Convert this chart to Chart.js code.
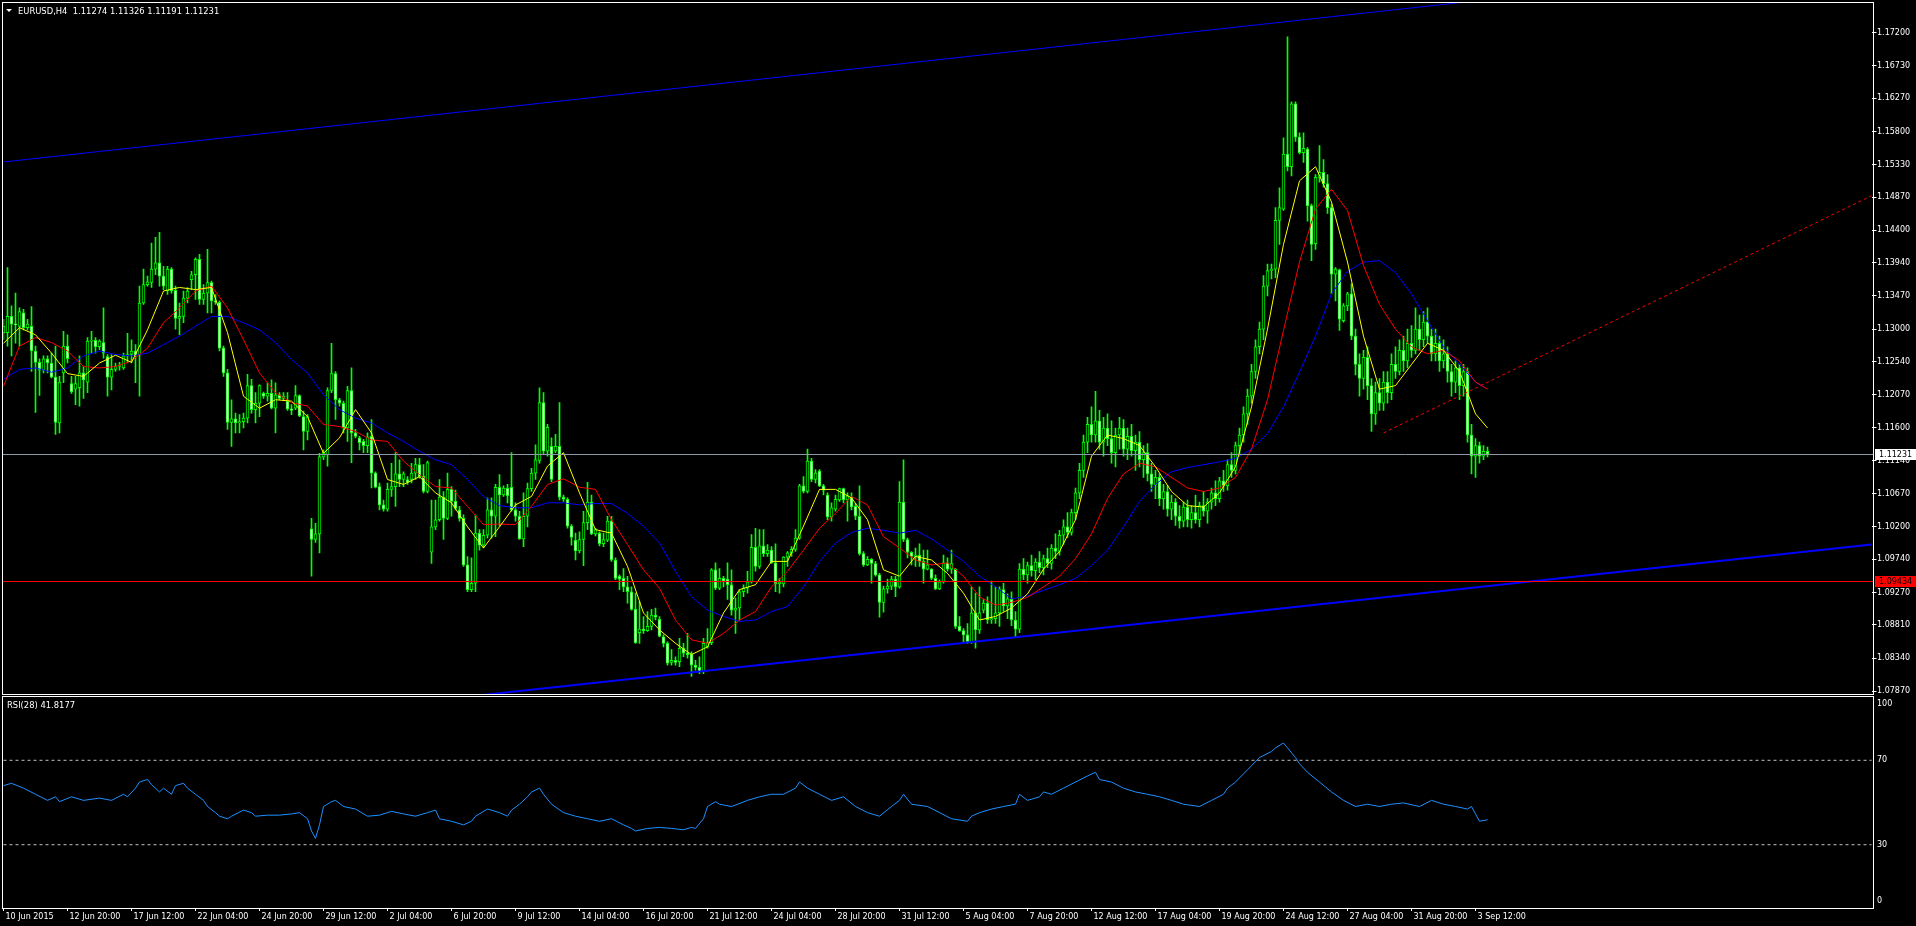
<!DOCTYPE html>
<html>
<head>
<meta charset="utf-8">
<title>EURUSD,H4</title>
<script src="https://cdn.jsdelivr.net/npm/chart.js@4.4.1/dist/chart.umd.min.js"></script>
<style>
  html, body { margin: 0; padding: 0; background: #000; overflow: hidden; }
  #wrap { position: relative; width: 1916px; height: 926px; background: #000; }
  canvas { position: absolute; left: 0; }
  #priceChart { top: 0; }
  #rsiChart { top: 695px; }
  .txt { position: absolute; color: #fff; font: 8.4px "DejaVu Sans", sans-serif; line-height: 10px; white-space: pre; }
  #tri { position: absolute; left: 6px; top: 9px; width: 0; height: 0;
         border-left: 3px solid transparent; border-right: 3px solid transparent; border-top: 3px solid #fff; }
</style>
</head>
<body>
<div id="wrap">
  <canvas id="priceChart" width="1916" height="695"></canvas>
  <canvas id="rsiChart" width="1916" height="231"></canvas>
  <div id="tri"></div>
  <div class="txt" id="title" style="left:18px; top:6px;"></div>
  <div class="txt" id="rsiTitle" style="left:7px; top:700px;"></div>
</div>
<script>
/* ================================
   Chart values
   ================================ */
const symbol = "EURUSD,H4";
const lastQuote = [1.11274, 1.11326, 1.11191, 1.11231];   // O H L C of the live bar
const bidPrice = 1.11231;
const levelPrice = 1.09434;
const rsiPeriod = 28;
const rsiNow = 41.8177;

const slotCount = 468;      // bar slots across the panel (bars + empty right margin)
const timeStep = 16;        // bars between time labels
const maStep = 4;           // MA values read every 4 bars

const timeTicks = ["10 Jun 2015","12 Jun 20:00","17 Jun 12:00","22 Jun 04:00","24 Jun 20:00","29 Jun 12:00",
  "2 Jul 04:00","6 Jul 20:00","9 Jul 12:00","14 Jul 04:00","16 Jul 20:00","21 Jul 12:00","24 Jul 04:00",
  "28 Jul 20:00","31 Jul 12:00","5 Aug 04:00","7 Aug 20:00","12 Aug 12:00","17 Aug 04:00","19 Aug 20:00",
  "24 Aug 12:00","27 Aug 04:00","31 Aug 20:00","3 Sep 12:00"];

const priceTicks = [1.17200,1.16730,1.16270,1.15800,1.15330,1.14870,1.14400,1.13940,1.13470,1.13000,
  1.12540,1.12070,1.11600,1.11140,1.10670,1.10200,1.09740,1.09270,1.08810,1.08340,1.07870];
const priceMin = 1.07832;
const priceMax = 1.17619;

const rsiLevels = [70, 30];

const opens = [
1.1295,1.1295,1.1318,1.1307,1.1304,1.1323,1.1302,1.1304,1.1269,1.1253,
1.1242,1.1258,1.1252,1.1232,1.1167,1.1238,1.1276,1.1223,1.1215,1.1217,
1.1238,1.1225,1.1283,1.1284,1.1275,1.1281,1.1261,1.1232,1.1243,1.1247,
1.1245,1.1262,1.1264,1.1269,1.1263,1.1337,1.1363,1.1366,1.1385,1.1394,
1.1375,1.1354,1.1385,1.1355,1.1315,1.1318,1.1344,1.1370,1.1377,1.1399,
1.1342,1.1351,1.1366,1.1340,1.1338,1.1273,1.1238,1.1168,1.1173,1.1167,
1.1169,1.1174,1.1220,1.1186,1.1195,1.1209,1.1205,1.1209,1.1188,1.1207,
1.1202,1.1198,1.1187,1.1188,1.1206,1.1176,1.1155,1.1017,1.1002,1.1010,
1.1119,1.1122,1.1213,1.1237,1.1200,1.1195,1.1160,1.1213,1.1153,1.1146,
1.1141,1.1135,1.1148,1.1096,1.1077,1.1051,1.1045,1.1073,1.1077,1.1095,
1.1087,1.1087,1.1087,1.1096,1.1108,1.1092,1.1070,1.0984,1.1020,1.1030,
1.1062,1.1032,1.1073,1.1056,1.1044,1.1032,1.0966,1.0931,1.0940,1.1011,
1.0994,1.1008,1.1044,1.1035,1.1076,1.1065,1.1075,1.1076,1.1044,1.1035,
1.1003,1.1035,1.1074,1.1096,1.1114,1.1196,1.1127,1.1134,1.1127,1.1134,
1.1062,1.1059,1.1021,1.1001,1.0986,1.1002,1.1026,1.1055,1.1010,1.1011,
1.0996,1.1001,1.1028,1.0973,1.0950,1.0947,1.0935,1.0928,1.0903,1.0870,
1.0875,1.0873,1.0879,1.0895,1.0889,1.0864,1.0855,1.0828,1.0831,1.0829,
1.0848,1.0841,1.0840,1.0824,1.0821,1.0815,1.0850,1.0856,1.0959,1.0933,
1.0947,1.0946,1.0938,1.0902,1.0905,1.0928,1.0933,1.0942,1.0991,1.0964,
1.0993,1.0982,1.0987,1.0969,1.0939,1.0939,1.0977,1.0983,1.0988,1.1004,
1.1078,1.1070,1.1113,1.1087,1.1099,1.1078,1.1065,1.1034,1.1045,1.1058,
1.1074,1.1058,1.1062,1.1049,1.1035,1.0982,1.0966,1.0974,1.0968,1.0952,
1.0913,1.0932,1.0936,1.0946,1.0935,1.1055,1.1002,1.0984,1.0978,1.0980,
1.0971,1.0960,1.0960,1.0947,1.0932,1.0942,1.0969,1.0960,1.0960,1.0879,
1.0873,1.0867,1.0857,1.0898,1.0874,1.0902,1.0912,1.0888,1.0890,1.0898,
1.0931,1.0908,1.0918,1.0888,1.0875,1.0960,1.0952,1.0965,1.0958,1.0970,
1.0962,1.0975,1.0968,1.0990,1.0985,1.1008,1.1020,1.1012,1.1040,1.1068,
1.1100,1.1140,1.1165,1.1150,1.1170,1.1140,1.1160,1.1145,1.1125,1.1150,
1.1160,1.1130,1.1148,1.1128,1.1140,1.1115,1.1125,1.1095,1.1080,1.1090,
1.1060,1.1070,1.1045,1.1055,1.1035,1.1028,1.1048,1.1030,1.1040,1.1030,
1.1050,1.1042,1.1055,1.1068,1.1060,1.1085,1.1078,1.1108,1.1100,1.1135,
1.1150,1.1180,1.1205,1.1240,1.1275,1.1300,1.1361,1.1383,1.1385,1.1454,
1.1470,1.1548,1.1530,1.1619,1.1572,1.1550,1.1555,1.1475,1.1421,1.1515,
1.1522,1.1506,1.1472,1.1378,1.1384,1.1312,1.1333,1.1350,1.1290,1.1250,
1.1230,1.1260,1.1220,1.1180,1.1210,1.1195,1.1225,1.1210,1.1250,1.1240,
1.1270,1.1255,1.1280,1.1270,1.1300,1.1285,1.1310,1.1290,1.1265,1.1280,
1.1255,1.1265,1.1240,1.1225,1.1245,1.1220,1.1240,1.1150,1.1120,1.1135,
1.1120,1.1127];

const highs = [
1.1314,1.1387,1.1333,1.1351,1.1330,1.1328,1.1314,1.1332,1.1276,1.1258,
1.1262,1.1262,1.1266,1.1276,1.1233,1.1297,1.1292,1.1233,1.1233,1.1262,
1.1247,1.1288,1.1297,1.1288,1.1285,1.1330,1.1264,1.1264,1.1252,1.1253,
1.1266,1.1294,1.1285,1.1278,1.1361,1.1385,1.1375,1.1422,1.1430,1.1437,
1.1389,1.1389,1.1387,1.1361,1.1337,1.1354,1.1359,1.1382,1.1401,1.1406,
1.1363,1.1413,1.1368,1.1349,1.1340,1.1276,1.1243,1.1200,1.1181,1.1179,
1.1181,1.1236,1.1229,1.1210,1.1221,1.1211,1.1224,1.1228,1.1224,1.1210,
1.1210,1.1210,1.1193,1.1220,1.1207,1.1184,1.1179,1.1032,1.1025,1.1124,
1.1129,1.1217,1.1280,1.1240,1.1202,1.1198,1.1219,1.1245,1.1158,1.1148,
1.1144,1.1153,1.1172,1.1098,1.1082,1.1058,1.1082,1.1110,1.1125,1.1115,
1.1098,1.1091,1.1110,1.1117,1.1117,1.1108,1.1113,1.1058,1.1058,1.1087,
1.1070,1.1096,1.1077,1.1072,1.1049,1.1037,1.0978,1.0976,1.1037,1.1016,
1.1016,1.1061,1.1061,1.1080,1.1094,1.1078,1.1080,1.1125,1.1054,1.1042,
1.1068,1.1082,1.1103,1.1136,1.1217,1.1210,1.1165,1.1146,1.1151,1.1196,
1.1065,1.1061,1.1023,1.1011,1.1013,1.1042,1.1083,1.1065,1.1018,1.1013,
1.1011,1.1035,1.1035,1.0976,1.0952,1.0961,1.0950,1.0935,1.0926,1.0914,
1.0893,1.0900,1.0903,1.0905,1.0893,1.0867,1.0857,1.0846,1.0836,1.0862,
1.0855,1.0869,1.0843,1.0831,1.0836,1.0862,1.0876,1.0961,1.0969,1.0961,
1.0950,1.0969,1.0959,1.0919,1.0931,1.0938,1.0957,1.1009,1.1018,1.1016,
1.1016,1.0995,1.0992,1.0996,1.0947,1.0978,1.0985,1.0992,1.1016,1.1080,
1.1091,1.1130,1.1117,1.1101,1.1101,1.1080,1.1068,1.1054,1.1065,1.1075,
1.1075,1.1068,1.1068,1.1053,1.1078,1.0985,1.0978,1.0975,1.0971,1.0954,
1.0936,1.0946,1.0950,1.0950,1.1084,1.1115,1.1004,1.0985,1.0990,1.0996,
1.0987,1.0987,1.0961,1.0952,1.0945,1.0980,1.0976,1.0987,1.0961,1.0893,
1.0876,1.0883,1.0935,1.0926,1.0935,1.0917,1.0921,1.0943,1.0935,1.0935,
1.0940,1.0925,1.0928,1.0900,1.0968,1.0975,1.0970,1.0980,1.0975,1.0985,
1.0980,1.0990,1.0995,1.1010,1.1015,1.1030,1.1040,1.1045,1.1075,1.1110,
1.1150,1.1175,1.1190,1.1212,1.1185,1.1175,1.1180,1.1170,1.1160,1.1175,
1.1172,1.1160,1.1165,1.1150,1.1155,1.1135,1.1138,1.1110,1.1100,1.1095,
1.1080,1.1078,1.1065,1.1060,1.1050,1.1055,1.1058,1.1050,1.1065,1.1055,
1.1070,1.1060,1.1075,1.1085,1.1090,1.1100,1.1115,1.1125,1.1140,1.1160,
1.1190,1.1215,1.1250,1.1285,1.1310,1.1376,1.1392,1.1392,1.1472,1.1500,
1.1571,1.1714,1.1622,1.1622,1.1578,1.1578,1.1557,1.1477,1.1519,1.1560,
1.1540,1.1519,1.1477,1.1387,1.1385,1.1336,1.1352,1.1364,1.1300,1.1265,
1.1270,1.1275,1.1230,1.1225,1.1230,1.1240,1.1240,1.1265,1.1275,1.1285,
1.1290,1.1300,1.1305,1.1330,1.1320,1.1325,1.1330,1.1300,1.1300,1.1290,
1.1285,1.1275,1.1250,1.1255,1.1250,1.1250,1.1245,1.1165,1.1145,1.1140,
1.1135,1.1133];

const lows = [
1.1285,1.1276,1.1262,1.1280,1.1276,1.1299,1.1299,1.1240,1.1182,1.1206,
1.1238,1.1238,1.1231,1.1151,1.1153,1.1224,1.1252,1.1209,1.1193,1.1191,
1.1202,1.1210,1.1266,1.1266,1.1271,1.1259,1.1205,1.1214,1.1240,1.1242,
1.1243,1.1252,1.1252,1.1224,1.1205,1.1335,1.1361,1.1359,1.1377,1.1361,
1.1356,1.1349,1.1351,1.1300,1.1292,1.1309,1.1337,1.1356,1.1342,1.1335,
1.1335,1.1323,1.1323,1.1335,1.1269,1.1233,1.1158,1.1134,1.1153,1.1153,
1.1160,1.1167,1.1181,1.1167,1.1176,1.1202,1.1198,1.1187,1.1153,1.1200,
1.1200,1.1185,1.1179,1.1186,1.1176,1.1129,1.1143,1.0950,1.0998,1.0983,
1.1115,1.1106,1.1210,1.1172,1.1191,1.1153,1.1141,1.1111,1.1146,1.1129,
1.1125,1.1125,1.1075,1.1075,1.1044,1.1042,1.1042,1.1063,1.1049,1.1077,
1.1077,1.1080,1.1082,1.1087,1.1089,1.1068,1.1068,1.0968,1.1016,1.1028,
1.1002,1.1030,1.1035,1.1044,1.1028,1.0964,1.0928,1.0928,1.0928,1.0987,
1.0990,1.1004,1.1004,1.1006,1.1021,1.1063,1.1054,1.1042,1.1028,1.1002,
1.0992,1.1020,1.1070,1.1087,1.1110,1.1122,1.1120,1.1084,1.1125,1.1058,
1.1056,1.1018,1.0994,1.0973,1.0983,1.0965,1.1016,1.1009,1.1007,1.0993,
1.0992,1.0999,1.0971,1.0945,1.0931,1.0928,1.0912,1.0902,1.0855,1.0855,
1.0869,1.0872,1.0874,1.0888,1.0864,1.0850,1.0824,1.0824,1.0824,1.0822,
1.0836,1.0834,1.0808,1.0817,1.0812,1.0812,1.0848,1.0853,1.0931,1.0931,
1.0935,1.0917,1.0895,1.0869,1.0888,1.0921,1.0926,1.0940,1.0957,1.0961,
1.0978,1.0978,1.0968,1.0928,1.0926,1.0935,1.0964,1.0978,1.0985,1.1002,
1.1068,1.1068,1.1084,1.1082,1.1077,1.1065,1.1030,1.1028,1.1042,1.1056,
1.1054,1.1028,1.1044,1.1030,1.0980,1.0964,1.0965,1.0940,1.0950,1.0892,
1.0899,1.0926,1.0931,1.0921,1.0933,1.0999,1.0976,1.0966,1.0964,1.0964,
1.0940,1.0959,1.0945,1.0931,1.0931,1.0940,1.0957,1.0954,1.0876,1.0872,
1.0855,1.0855,1.0855,1.0848,1.0869,1.0898,1.0883,1.0883,1.0883,1.0879,
1.0900,1.0890,1.0880,1.0864,1.0870,1.0945,1.0940,1.0950,1.0945,1.0955,
1.0952,1.0962,1.0960,1.0975,1.0980,1.0995,1.1005,1.1008,1.1030,1.1060,
1.1090,1.1125,1.1140,1.1140,1.1130,1.1120,1.1135,1.1110,1.1105,1.1130,
1.1120,1.1115,1.1120,1.1100,1.1105,1.1090,1.1085,1.1070,1.1060,1.1050,
1.1045,1.1035,1.1030,1.1022,1.1018,1.1020,1.1020,1.1018,1.1025,1.1020,
1.1035,1.1025,1.1045,1.1050,1.1055,1.1070,1.1072,1.1090,1.1095,1.1120,
1.1140,1.1165,1.1195,1.1230,1.1265,1.1285,1.1347,1.1371,1.1373,1.1420,
1.1468,1.1524,1.1517,1.1566,1.1548,1.1536,1.1453,1.1397,1.1413,1.1508,
1.1501,1.1464,1.1350,1.1340,1.1298,1.1310,1.1326,1.1285,1.1235,1.1205,
1.1215,1.1200,1.1155,1.1165,1.1185,1.1185,1.1195,1.1200,1.1230,1.1235,
1.1240,1.1245,1.1260,1.1265,1.1270,1.1275,1.1280,1.1255,1.1255,1.1240,
1.1245,1.1225,1.1205,1.1210,1.1200,1.1205,1.1140,1.1095,1.1090,1.1110,
1.1115,1.1119];

const closes = [
1.1304,1.1318,1.1307,1.1306,1.1325,1.1302,1.1307,1.1269,1.1253,1.1242,
1.1258,1.1252,1.1232,1.1168,1.1225,1.1276,1.1258,1.1211,1.1223,1.1238,
1.1228,1.1283,1.1284,1.1275,1.1283,1.1266,1.1232,1.1243,1.1247,1.1248,
1.1262,1.1264,1.1269,1.1263,1.1337,1.1363,1.1367,1.1385,1.1394,1.1375,
1.1361,1.1385,1.1354,1.1315,1.1318,1.1344,1.1354,1.1377,1.1399,1.1342,
1.1351,1.1366,1.1340,1.1338,1.1273,1.1238,1.1168,1.1173,1.1167,1.1169,
1.1174,1.1220,1.1186,1.1195,1.1220,1.1205,1.1209,1.1188,1.1207,1.1202,
1.1205,1.1187,1.1185,1.1206,1.1177,1.1155,1.1176,1.1002,1.1010,1.1119,
1.1125,1.1213,1.1237,1.1200,1.1195,1.1160,1.1213,1.1153,1.1148,1.1139,
1.1135,1.1147,1.1096,1.1076,1.1051,1.1045,1.1073,1.1077,1.1095,1.1087,
1.1095,1.1083,1.1096,1.1108,1.1091,1.1070,1.1111,1.1020,1.1030,1.1062,
1.1032,1.1073,1.1056,1.1046,1.1032,1.0966,1.0931,1.0940,1.1011,1.0994,
1.1008,1.1044,1.1035,1.1076,1.1065,1.1075,1.1064,1.1044,1.1035,1.1003,
1.1035,1.1074,1.1096,1.1115,1.1196,1.1127,1.1161,1.1087,1.1134,1.1062,
1.1059,1.1021,1.1005,1.0986,1.1002,1.1026,1.1055,1.1010,1.1016,1.0996,
1.1002,1.1028,1.0973,1.0947,1.0946,1.0935,1.0928,1.0903,1.0856,1.0875,
1.0873,1.0879,1.0895,1.0892,1.0865,1.0855,1.0827,1.0831,1.0828,1.0848,
1.0841,1.0839,1.0824,1.0821,1.0815,1.0855,1.0856,1.0959,1.0933,1.0947,
1.0943,1.0938,1.0902,1.0905,1.0928,1.0933,1.0942,1.0991,1.0964,1.0993,
1.0982,1.0987,1.0969,1.0939,1.0942,1.0977,1.0983,1.0988,1.1004,1.1078,
1.1070,1.1113,1.1087,1.1096,1.1078,1.1072,1.1034,1.1047,1.1059,1.1074,
1.1058,1.1064,1.1048,1.1035,1.0982,1.0966,1.0974,1.0968,1.0952,1.0913,
1.0932,1.0936,1.0946,1.0935,1.1055,1.1002,1.0984,1.0978,1.0980,1.0971,
1.0960,1.0966,1.0947,1.0932,1.0942,1.0969,1.0960,1.0968,1.0879,1.0873,
1.0867,1.0857,1.0898,1.0874,1.0898,1.0912,1.0888,1.0890,1.0898,1.0931,
1.0908,1.0918,1.0888,1.0875,1.0960,1.0952,1.0965,1.0958,1.0970,1.0962,
1.0975,1.0968,1.0990,1.0985,1.1008,1.1020,1.1012,1.1040,1.1068,1.1100,
1.1140,1.1165,1.1150,1.1170,1.1140,1.1160,1.1145,1.1125,1.1150,1.1160,
1.1130,1.1148,1.1128,1.1140,1.1115,1.1125,1.1095,1.1080,1.1090,1.1060,
1.1070,1.1045,1.1055,1.1035,1.1028,1.1048,1.1030,1.1040,1.1030,1.1050,
1.1042,1.1055,1.1068,1.1060,1.1085,1.1078,1.1108,1.1100,1.1135,1.1150,
1.1180,1.1205,1.1240,1.1275,1.1300,1.1361,1.1383,1.1385,1.1454,1.1472,
1.1548,1.1530,1.1619,1.1572,1.1550,1.1556,1.1475,1.1420,1.1515,1.1522,
1.1506,1.1472,1.1378,1.1385,1.1314,1.1333,1.1350,1.1290,1.1250,1.1230,
1.1260,1.1220,1.1180,1.1210,1.1195,1.1225,1.1210,1.1250,1.1240,1.1270,
1.1255,1.1280,1.1270,1.1300,1.1285,1.1310,1.1290,1.1265,1.1280,1.1255,
1.1265,1.1240,1.1225,1.1245,1.1220,1.1240,1.1150,1.1120,1.1135,1.1120,
1.1127,1.1123];

// moving averages, one value every maStep bars
const yellowMA = [1.1280,1.1302,1.1292,1.1266,1.1237,1.1233,1.1252,1.1263,1.1253,1.1299,
1.1354,1.1359,1.1356,1.1359,1.1295,1.1205,1.1188,1.1200,1.1198,1.1176,
1.1124,1.1146,1.1186,1.1153,1.1087,1.1080,1.1091,1.1068,1.1054,1.1020,
1.0990,1.1020,1.1051,1.1063,1.1106,1.1125,1.1068,1.1016,1.1011,1.0964,
1.0898,1.0874,1.0855,1.0839,1.0850,1.0898,1.0931,1.0938,1.0971,1.0971,
1.1021,1.1073,1.1073,1.1061,1.1030,1.0959,1.0950,1.0978,1.0973,1.0954,
1.0926,1.0888,1.0893,1.0905,1.0925,1.0960,1.0985,1.1030,1.1120,1.1150,
1.1145,1.1135,1.1105,1.1070,1.1050,1.1048,1.1068,1.1105,1.1190,1.1300,
1.1420,1.1510,1.1530,1.1480,1.1395,1.1290,1.1215,1.1220,1.1250,1.1280,
1.1270,1.1240,1.1180,1.1160];

const redMA = [1.1219,1.1276,1.1288,1.1281,1.1269,1.1247,1.1245,1.1247,1.1255,1.1273,
1.1309,1.1330,1.1354,1.1361,1.1330,1.1285,1.1238,1.1210,1.1196,1.1191,
1.1165,1.1162,1.1155,1.1143,1.1141,1.1113,1.1094,1.1077,1.1075,1.1049,
1.1023,1.1024,1.1023,1.1049,1.1080,1.1088,1.1076,1.1073,1.1030,1.0995,
1.0959,1.0933,1.0888,1.0860,1.0855,1.0869,1.0888,1.0900,1.0935,1.0957,
1.0987,1.1018,1.1039,1.1063,1.1051,1.1006,1.0990,1.0973,1.0966,1.0969,
1.0950,1.0921,1.0909,1.0913,1.0920,1.0935,1.0950,1.0975,1.1010,1.1060,
1.1095,1.1110,1.1105,1.1090,1.1075,1.1070,1.1075,1.1090,1.1130,1.1200,
1.1298,1.1395,1.1470,1.1498,1.1468,1.1390,1.1335,1.1300,1.1275,1.1265,
1.1270,1.1255,1.1225,1.1215];

const blueMA = [1.1229,1.1243,1.1245,1.1239,1.1245,1.1262,1.1269,1.1264,1.1262,1.1266,
1.1278,1.1290,1.1304,1.1318,1.1318,1.1309,1.1299,1.1281,1.1257,1.1238,
1.1207,1.1186,1.1174,1.1167,1.1153,1.1141,1.1127,1.1115,1.1108,1.1087,
1.1063,1.1050,1.1047,1.1047,1.1054,1.1054,1.1051,1.1053,1.1053,1.1039,
1.1021,1.0997,1.0957,1.0921,1.0902,1.0893,1.0886,1.0888,1.0900,1.0907,
1.0935,1.0971,1.0997,1.1012,1.1018,1.1015,1.1011,1.1015,1.1003,1.0987,
1.0971,1.0950,1.0935,1.0918,1.0922,1.0930,1.0938,1.0947,1.0965,1.0987,
1.1020,1.1056,1.1080,1.1098,1.1104,1.1108,1.1112,1.1117,1.1130,1.1152,
1.1190,1.1239,1.1290,1.1350,1.1382,1.1395,1.1397,1.1380,1.1350,1.1312,
1.1275,1.1250,1.1225,1.1215];

// RSI(28) read at these bars
const rsiBars = [0,2,5,8,11,13,14,17,20,24,27,30,31,33,34,36,37,39,40,42,43,45,46,48,50,51,53,54,56,57,
60,62,63,66,69,72,74,76,77,78,79,80,82,83,85,88,91,94,97,100,103,106,108,109,112,115,117,118,121,124,
126,127,129,131,132,134,135,137,140,143,146,149,152,155,157,158,161,164,167,170,172,173,175,176,178,179,182,186,189,192,
195,198,199,201,204,207,210,213,216,219,222,224,225,227,231,234,237,241,242,244,247,250,253,254,256,259,260,262,265,268,
271,273,274,277,280,283,286,289,292,295,299,302,305,306,308,311,314,317,318,320,321,323,324,326,329,332,335,338,341,344,
347,350,354,357,360,363,366,367,369,371];
const rsiValues = [58,59.1,56.8,53.9,51,52.7,50.4,52.7,51,52.1,51,53.9,52.7,56.8,59.7,60.9,58.5,55,56.8,53.9,58,59.1,56.8,53.9,51,48.1,45.2,43.5,42.3,43.5,
46.4,45.2,43.5,44,44,44.6,45.2,42.3,36.5,33,39.4,48.1,50.4,51,48.1,46.9,43.5,44,45.8,44.6,43.5,45.2,46.4,42.3,41.1,39.4,41.1,43.5,46.9,45.2,
43.5,46.4,49.2,52.7,55,56.8,53.9,49.2,45.2,43.5,42.3,41.1,42.3,39.4,37.7,36.5,37.7,38.2,37.7,37.1,38.2,37.7,42.3,48.1,50.4,49.2,48.1,51,52.7,53.9,
53.9,56.8,59.7,56.8,53.9,51,52.7,48.1,45.2,43.5,48.1,51,53.9,49.2,48.1,45.2,42.3,41.1,43.5,45.2,46.9,48.1,49.2,53.9,51,52.7,55,53.9,56.8,59.7,
62.6,64.3,60.9,59.7,56.8,55,53.9,52.7,51,49.2,48.1,51,53.9,56.8,59.7,65.5,71.3,74.2,75.9,78.2,75.9,71.3,68.4,64.3,59.7,55,51,48.1,49.2,48.1,
49.2,49.8,48.1,51,49.2,48.1,46.9,48.1,41.1,41.8177];

// drawn objects: [first slot, last slot] and prices at those slots
const upperChannelSlots = [0, 467], upperChannelPrices = [1.15367, 1.18262];
const lowerChannelSlots = [0, 467], lowerChannelPrices = [1.07082, 1.09950];
const redTrendSlots = [345, 467],  redTrendPrices = [1.11530, 1.14889];

/* ================================
   Build the datasets
   ================================ */
const FONT = "DejaVu Sans";
Chart.defaults.font.family = FONT;
Chart.defaults.font.size = 8;
Chart.defaults.color = "#fff";

const slots = Array.from({ length: slotCount }, (_, i) => String(i));
const lastIdx = closes.length - 1;
const sampled = arr => arr.map((v, k) => ({ x: slots[Math.min(k * maStep, lastIdx)], y: v }));
const segment = (s, p) => [{ x: slots[s[0]], y: p[0] }, { x: slots[s[1]], y: p[1] }];

const wickData = lows.map((l, i) => [l, highs[i]]);
const bodyData = opens.map((o, i) => [o, closes[i]]);
const bodyFill = opens.map((o, i) => closes[i] >= o ? "#000000" : "#ffffff");
const rsiPoints = rsiBars.map((b, k) => ({ x: slots[b], y: rsiValues[k] }));

const timeTickAt = new Map(timeTicks.map((t, k) => [k * timeStep, t]));

// keep chartArea exactly where the layout padding puts it
const noScalePadding = s => { s.paddingTop = 0; s.paddingBottom = 0; s.paddingLeft = 0; s.paddingRight = 0; };

const framePlugin = {
  id: "frame",
  afterDraw(chart, args, o) {
    const ctx = chart.ctx;
    ctx.save();
    ctx.strokeStyle = "#fff";
    ctx.lineWidth = 1;
    ctx.strokeRect(o.x + 0.5, o.y + 0.5, o.w, o.h);
    ctx.restore();
  }
};

const levelsPlugin = {
  id: "levels",
  afterDatasetsDraw(chart) {
    const { ctx, scales: { y } } = chart;
    ctx.save();
    ctx.lineWidth = 1;
    [[bidPrice, "#8e99a8"], [levelPrice, "#ff0000"]].forEach(([p, c]) => {
      const py = Math.round(y.getPixelForValue(p)) + 0.5;
      ctx.strokeStyle = c;
      ctx.beginPath();
      ctx.moveTo(3, py);
      ctx.lineTo(1873, py);
      ctx.stroke();
    });
    ctx.restore();
  },
  afterDraw(chart) {
    const { ctx, scales: { y } } = chart;
    ctx.save();
    ctx.font = "8px " + FONT;
    ctx.textBaseline = "middle";
    [[bidPrice, "#ffffff", "#000000"], [levelPrice, "#ff0000", "#000000"]].forEach(([p, bg, fg]) => {
      const py = Math.round(y.getPixelForValue(p));
      ctx.fillStyle = bg;
      ctx.fillRect(1875, py - 5, 41, 11);
      ctx.fillStyle = fg;
      ctx.fillText(p.toFixed(5), 1879, py + 0.5);
    });
    ctx.restore();
  }
};

/* ================================
   Price panel
   ================================ */
new Chart(document.getElementById("priceChart"), {
  type: "bar",
  data: {
    labels: slots,
    datasets: [
      { type: "bar", data: wickData, backgroundColor: "#00ff00", borderWidth: 0,
        barThickness: 1, grouped: false, order: 10 },
      { type: "bar", data: bodyData, backgroundColor: bodyFill, borderColor: "#00ff00", borderWidth: 1,
        borderSkipped: false, barThickness: 3, minBarLength: 1, grouped: false, order: 9 },
      { type: "line", data: sampled(blueMA), borderColor: "#0000ff", borderWidth: 1, pointRadius: 0, order: 6 },
      { type: "line", data: sampled(redMA), borderColor: "#ff0000", borderWidth: 1, pointRadius: 0, order: 5 },
      { type: "line", data: sampled(yellowMA), borderColor: "#ffff00", borderWidth: 1, pointRadius: 0, order: 4 },
      { type: "line", data: segment(upperChannelSlots, upperChannelPrices), borderColor: "#0000ff",
        borderWidth: 1, pointRadius: 0, order: 3 },
      { type: "line", data: segment(lowerChannelSlots, lowerChannelPrices), borderColor: "#0000ff",
        borderWidth: 2, pointRadius: 0, order: 2 },
      { type: "line", data: segment(redTrendSlots, redTrendPrices), borderColor: "#ff0000",
        borderWidth: 1, borderDash: [3, 3], pointRadius: 0, order: 1 }
    ]
  },
  options: {
    responsive: false,
    animation: false,
    devicePixelRatio: 1,
    events: [],
    layout: { padding: { left: 3.5, top: 3, right: 0, bottom: 1 } },
    plugins: {
      legend: { display: false },
      tooltip: { enabled: false },
      frame: { x: 2, y: 2, w: 1871, h: 692 }
    },
    scales: {
      x: { display: false, offset: false, grid: { display: false } },
      y: {
        position: "right",
        min: priceMin,
        max: priceMax,
        afterFit: s => { s.width = 44.5; noScalePadding(s); },
        afterBuildTicks: s => { s.ticks = priceTicks.map(v => ({ value: v })); },
        ticks: { color: "#fff", padding: 0.5, autoSkip: false, callback: v => Number(v).toFixed(5) },
        grid: { drawOnChartArea: false, drawTicks: true, tickLength: 5, color: "#fff" },
        border: { display: false }
      }
    }
  },
  plugins: [levelsPlugin, framePlugin]
});

/* ================================
   RSI panel
   ================================ */
const rsiEdgeLabels = {
  id: "rsiEdge",
  afterDraw(chart) {
    const { ctx, scales: { y } } = chart;
    ctx.save();
    ctx.font = "8px " + FONT;
    ctx.fillStyle = "#fff";
    ctx.textBaseline = "middle";
    ctx.fillText("100", 1877, y.getPixelForValue(100) + 7);
    ctx.fillText("0", 1877, y.getPixelForValue(0) - 7);
    ctx.restore();
  }
};

new Chart(document.getElementById("rsiChart"), {
  type: "line",
  data: {
    labels: slots,
    datasets: [
      { data: rsiPoints, borderColor: "#1e90ff", borderWidth: 1, pointRadius: 0, order: 1 },
      ...rsiLevels.map(v => ({
        data: [{ x: slots[0], y: v }, { x: slots[slotCount - 1], y: v }],
        borderColor: "#c0c0c0", borderWidth: 1, borderDash: [3, 3], pointRadius: 0, order: 2
      }))
    ]
  },
  options: {
    responsive: false,
    animation: false,
    devicePixelRatio: 1,
    events: [],
    layout: { padding: { left: 3.5, top: 2, right: 0, bottom: 0 } },
    plugins: {
      legend: { display: false },
      tooltip: { enabled: false },
      frame: { x: 2, y: 1, w: 1871, h: 212 }
    },
    scales: {
      x: {
        offset: false,
        afterFit: s => { s.height = 18; noScalePadding(s); },
        afterBuildTicks: s => { s.ticks = [...timeTickAt.keys()].map(i => ({ value: i })); },
        ticks: { autoSkip: false, maxRotation: 0, align: "start", labelOffset: 2, padding: 1,
                 color: "#fff", callback: v => timeTickAt.get(v) || "" },
        grid: { drawOnChartArea: false, drawTicks: true, tickLength: 3, color: "#fff" },
        border: { display: false }
      },
      y: {
        position: "right",
        min: 0,
        max: 100,
        afterFit: s => { s.width = 44.5; noScalePadding(s); },
        afterBuildTicks: s => { s.ticks = rsiLevels.map(v => ({ value: v })); },
        ticks: { color: "#fff", padding: 5.5, autoSkip: false },
        grid: { drawOnChartArea: false, drawTicks: false },
        border: { display: false }
      }
    }
  },
  plugins: [rsiEdgeLabels, framePlugin]
});

/* ================================
   Text labels
   ================================ */
document.getElementById("title").textContent =
  symbol + "  " + lastQuote.map(v => v.toFixed(5)).join(" ");
document.getElementById("rsiTitle").textContent =
  "RSI(" + rsiPeriod + ") " + rsiNow.toFixed(4);
</script>
</body>
</html>
